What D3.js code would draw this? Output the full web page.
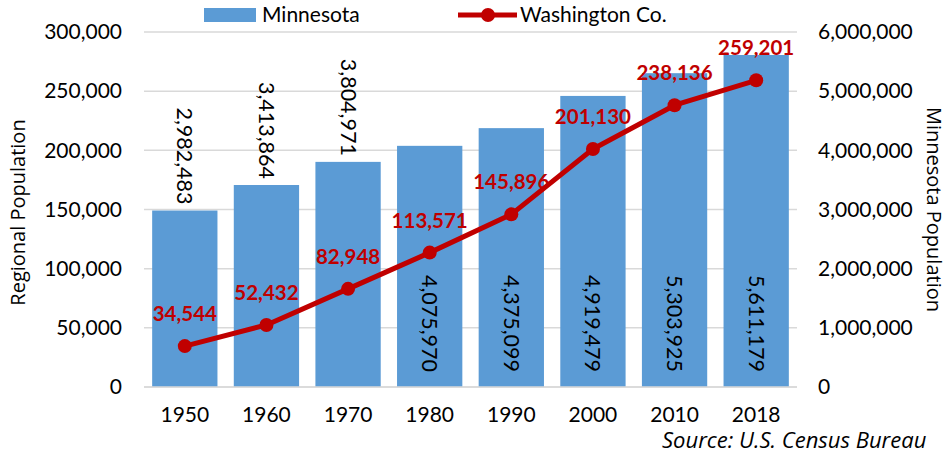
<!DOCTYPE html>
<html>
<head>
<meta charset="utf-8">
<script src="https://cdn.jsdelivr.net/npm/d3@7"></script>
<style>
  body { margin: 0; background: #fff; }
  svg { font-family: Lato, "Open Sans", sans-serif; }
</style>
</head>
<body>
<div id="chart"></div>
<script>
// chart data
const years = ['1950', '1960', '1970', '1980', '1990', '2000', '2010', '2018'];
const minnesota = [2982483, 3413864, 3804971, 4075970, 4375099, 4919479, 5303925, 5611179];
const washington = [34544, 52432, 82948, 113571, 145896, 201130, 238136, 259201];
const leftTicks = [0, 50000, 100000, 150000, 200000, 250000, 300000];
const rightTicks = [0, 1000000, 2000000, 3000000, 4000000, 5000000, 6000000];

const width = 948;
const height = 454;
const margin = { top: 32, right: 151, bottom: 67, left: 144 };

const fmt = d3.format(',');
const barColour = '#5B9BD5';
const lineColour = '#C00000';

const svg = d3.select('#chart')
  .append('svg')
  .attr('width', width)
  .attr('height', height);

const x = d3.scaleBand()
  .domain(years)
  .range([margin.left, width - margin.right])
  .paddingInner(0.2)
  .paddingOuter(0.1);

const yLeft = d3.scaleLinear()
  .domain([0, 300000])
  .range([height - margin.bottom, margin.top]);

const yRight = d3.scaleLinear()
  .domain([0, 6000000])
  .range([height - margin.bottom, margin.top]);

// gridlines
svg.append('g')
  .selectAll('line')
  .data(leftTicks)
  .join('line')
  .attr('x1', margin.left)
  .attr('x2', width - margin.right)
  .attr('y1', d => yLeft(d))
  .attr('y2', d => yLeft(d))
  .attr('stroke', '#D9D9D9')
  .attr('stroke-width', 1.5);

// left axis
const leftAxis = svg.append('g')
  .attr('transform', `translate(${margin.left - 22},0)`)
  .call(d3.axisLeft(yLeft).tickValues(leftTicks).tickFormat(fmt).tickSize(0).tickPadding(0));
leftAxis.select('.domain').remove();
leftAxis.selectAll('text')
  .attr('font-size', 21)
  .attr('font-family', 'Lato')
  .attr('fill', '#000');

// right axis
const rightAxis = svg.append('g')
  .attr('transform', `translate(${width - margin.right + 21},0)`)
  .call(d3.axisRight(yRight).tickValues(rightTicks).tickFormat(fmt).tickSize(0).tickPadding(0));
rightAxis.select('.domain').remove();
rightAxis.selectAll('text')
  .attr('font-size', 21)
  .attr('font-family', 'Lato')
  .attr('fill', '#000');

// bottom axis
const bottomAxis = svg.append('g')
  .attr('transform', `translate(0,${height - margin.bottom})`)
  .call(d3.axisBottom(x).tickSize(0).tickPadding(20));
bottomAxis.select('.domain').remove();
bottomAxis.selectAll('text')
  .attr('font-size', 21)
  .attr('font-family', 'Lato')
  .attr('fill', '#000');

// bars
const bars = years.map((year, i) => ({ year, value: minnesota[i] }));
svg.append('g')
  .selectAll('rect')
  .data(bars)
  .join('rect')
  .attr('x', d => x(d.year))
  .attr('width', x.bandwidth())
  .attr('y', d => yRight(d.value))
  .attr('height', d => yRight(0) - yRight(d.value))
  .attr('fill', barColour);

// baseline
svg.append('line')
  .attr('x1', margin.left)
  .attr('x2', width - margin.right)
  .attr('y1', yLeft(0))
  .attr('y2', yLeft(0))
  .attr('stroke', '#D9D9D9')
  .attr('stroke-width', 1.5);

// bar labels, rotated; short bars get them above, tall bars inside the base
svg.append('g')
  .selectAll('text')
  .data(bars)
  .join('text')
  .attr('transform', d => {
    const cx = x(d.year) + x.bandwidth() / 2;
    const ty = d.value < 4000000 ? yRight(d.value) - 6 : yRight(0) - 15;
    return `translate(${cx},${ty}) rotate(90)`;
  })
  .attr('text-anchor', 'end')
  .attr('dy', '0.35em')
  .attr('font-size', 21.5)
  .attr('fill', '#000')
  .text(d => fmt(d.value));

// Washington Co. line
const points = years.map((year, i) => ({ year, value: washington[i] }));
const line = d3.line()
  .x(d => x(d.year) + x.bandwidth() / 2)
  .y(d => yLeft(d.value));

svg.append('path')
  .datum(points)
  .attr('d', line)
  .attr('fill', 'none')
  .attr('stroke', lineColour)
  .attr('stroke-width', 5)
  .attr('stroke-linejoin', 'round');

svg.append('g')
  .selectAll('circle')
  .data(points)
  .join('circle')
  .attr('cx', d => x(d.year) + x.bandwidth() / 2)
  .attr('cy', d => yLeft(d.value))
  .attr('r', 7)
  .attr('fill', lineColour);

svg.append('g')
  .selectAll('text')
  .data(points)
  .join('text')
  .attr('x', d => x(d.year) + x.bandwidth() / 2)
  .attr('y', d => yLeft(d.value) - 25)
  .attr('text-anchor', 'middle')
  .attr('font-size', 20.5)
  .attr('font-weight', 'bold')
  .attr('fill', lineColour)
  .text(d => fmt(d.value));

// axis titles
svg.append('text')
  .attr('transform', `translate(25,${(margin.top + height - margin.bottom) / 2 + 3}) rotate(-90)`)
  .attr('text-anchor', 'middle')
  .attr('font-family', 'Open Sans')
  .attr('font-size', 20)
  .text('Regional Population');

svg.append('text')
  .attr('transform', `translate(927,${(margin.top + height - margin.bottom) / 2}) rotate(90)`)
  .attr('text-anchor', 'middle')
  .attr('font-family', 'Open Sans')
  .attr('font-size', 20)
  .text('Minnesota Population');

// legend
const legend = svg.append('g');
legend.append('rect')
  .attr('x', 204).attr('y', 8)
  .attr('width', 52).attr('height', 14)
  .attr('fill', barColour);
legend.append('text')
  .attr('x', 262).attr('y', 22)
  .attr('font-size', 21)
  .text('Minnesota');
legend.append('line')
  .attr('x1', 458).attr('x2', 517)
  .attr('y1', 15).attr('y2', 15)
  .attr('stroke', lineColour)
  .attr('stroke-width', 5);
legend.append('circle')
  .attr('cx', 488).attr('cy', 15).attr('r', 7)
  .attr('fill', lineColour);
legend.append('text')
  .attr('x', 520).attr('y', 22)
  .attr('font-size', 21)
  .text('Washington Co.');

// source note
svg.append('text')
  .attr('x', 662)
  .attr('y', 448)
  .attr('font-family', 'Open Sans')
  .attr('font-size', 22)
  .attr('font-style', 'italic')
  .text('Source: U.S. Census Bureau');
</script>
</body>
</html>
